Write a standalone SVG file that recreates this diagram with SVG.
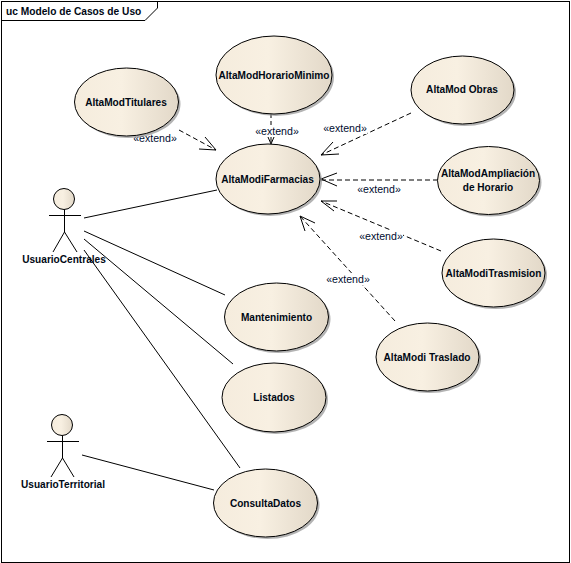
<svg xmlns="http://www.w3.org/2000/svg" width="571" height="563" viewBox="0 0 571 563">
<style>
text{font-family:"Liberation Sans",Arial,sans-serif;fill:#000814}
.n{font-size:10.1px;font-weight:bold;text-anchor:middle}
.t{font-size:10.2px;font-weight:bold}
.x{font-size:10.6px;text-anchor:middle;fill:#000c30}
.e{fill:url(#g);stroke:#000;stroke-width:1}
.s{fill:#999;stroke:none;opacity:.75}
.l{fill:none;stroke:#000;stroke-width:1}
.d{fill:none;stroke:#000;stroke-width:1;stroke-dasharray:5 3}
.a{fill:none;stroke:#000;stroke-width:1}
.w{fill:#fff;stroke:none}
</style>
<defs>
<linearGradient id="g" x1="0" y1="0" x2="1" y2="0">
<stop offset="0" stop-color="#f5ecdd"/><stop offset=".45" stop-color="#f8f0e2"/><stop offset="1" stop-color="#e2d8c8"/>
</linearGradient>
</defs>
<rect width="571" height="563" fill="#fff"/>
<g id="frame">
<rect x="1.5" y="1.5" width="568" height="561" fill="none" stroke="#000"/>
<path d="M1.5 20.5H145L157.5 8V1.500" fill="none" stroke="#000"/>
<text class="t" x="6" y="14.500">uc Modelo de Casos de Uso</text>
</g>
<g id="connectors">
<path class="l" d="M84 218L217 190M84 231L225 295M84 239L233 364M84 250L240 468M82 455L214 490"/>
<path class="d" d="M179 130L216 150M271 113V144M411 113L321 155M438 180H321M441 251L321 201M395 321L300 216"/>
<path class="a" d="M205 137L216 150L199 149M268 137L271 144L274 137M333 142L321 155L339 154M337 173L321 179L337 186M337 201L321 201L334 211M315 223L300 216L305 231"/>
<rect class="w" x="133" y="131" width="44" height="13"/>
<rect class="w" x="255" y="125" width="44" height="12"/>
<rect class="w" x="323" y="122" width="44" height="12"/>
<rect class="w" x="357" y="183" width="44" height="12"/>
<rect class="w" x="359" y="230" width="44" height="12"/>
<rect class="w" x="326" y="273" width="44" height="12"/>
<text class="x" x="155" y="141.500">«extend»</text>
<text class="x" x="277" y="134.500">«extend»</text>
<text class="x" x="345" y="131.500">«extend»</text>
<text class="x" x="379" y="192.500">«extend»</text>
<text class="x" x="381" y="239.500">«extend»</text>
<text class="x" x="348" y="282.500">«extend»</text>
</g>
<g id="AltaModTitulares"><ellipse class="s" cx="128.500" cy="104" rx="52" ry="34"/><ellipse class="e" cx="126.500" cy="102" rx="52" ry="34"/><text class="n" x="126" y="105.500">AltaModTitulares</text></g>
<g id="AltaModHorarioMinimo"><ellipse class="s" cx="276" cy="77" rx="58" ry="39"/><ellipse class="e" cx="274" cy="75" rx="58" ry="39"/><text class="n" x="274" y="78.500">AltaModHorarioMinimo</text></g>
<g id="AltaModiFarmacias"><ellipse class="s" cx="270" cy="181" rx="52" ry="35"/><ellipse class="e" cx="268" cy="179" rx="52" ry="35"/><text class="n" x="267.500" y="183">AltaModiFarmacias</text></g>
<g id="AltaModObras"><ellipse class="s" cx="464.500" cy="92" rx="51.500" ry="34"/><ellipse class="e" cx="462.500" cy="90" rx="51.500" ry="34"/><text class="n" x="462" y="93">AltaMod Obras</text></g>
<g id="AltaModAmpliacion"><ellipse class="s" cx="490.500" cy="182.500" rx="51" ry="34"/><ellipse class="e" cx="488.500" cy="180.500" rx="51" ry="34"/><text class="n" x="488" y="177">AltaModAmpliación</text><text class="n" x="488" y="191">de Horario</text></g>
<g id="AltaModiTrasmision"><ellipse class="s" cx="495.500" cy="275" rx="51.500" ry="34"/><ellipse class="e" cx="493.500" cy="273" rx="51.500" ry="34"/><text class="n" x="493.500" y="276.500">AltaModiTrasmision</text></g>
<g id="AltaModiTraslado"><ellipse class="s" cx="429.500" cy="359" rx="51.500" ry="34"/><ellipse class="e" cx="427.500" cy="357" rx="51.500" ry="34"/><text class="n" x="427" y="360.500">AltaModi Traslado</text></g>
<g id="Mantenimiento"><ellipse class="s" cx="278.500" cy="319" rx="52" ry="34"/><ellipse class="e" cx="276.500" cy="317" rx="52" ry="34"/><text class="n" x="276.500" y="320.500">Mantenimiento</text></g>
<g id="Listados"><ellipse class="s" cx="276" cy="399.500" rx="52" ry="34.500"/><ellipse class="e" cx="274" cy="397.500" rx="52" ry="34.500"/><text class="n" x="274" y="401">Listados</text></g>
<g id="ConsultaDatos"><ellipse class="s" cx="267.500" cy="505" rx="52" ry="34"/><ellipse class="e" cx="265.500" cy="503" rx="52" ry="34"/><text class="n" x="265.500" y="506.500">ConsultaDatos</text></g>
<g id="UsuarioCentrales"><circle class="e" cx="64" cy="199" r="10.500"/><path class="l" d="M49 215.500H81M64.500 209.500V232M64.500 232L53 252M64.500 232L77 252"/><text class="n" x="64" y="263">UsuarioCentrales</text></g>
<g id="UsuarioTerritorial"><circle class="e" cx="62" cy="425" r="10.500"/><path class="l" d="M47 441.500H79M62.500 435.500V458M62.500 458L51 477M62.500 458L74 477"/><text class="n" x="63" y="488">UsuarioTerritorial</text></g>
</svg>
